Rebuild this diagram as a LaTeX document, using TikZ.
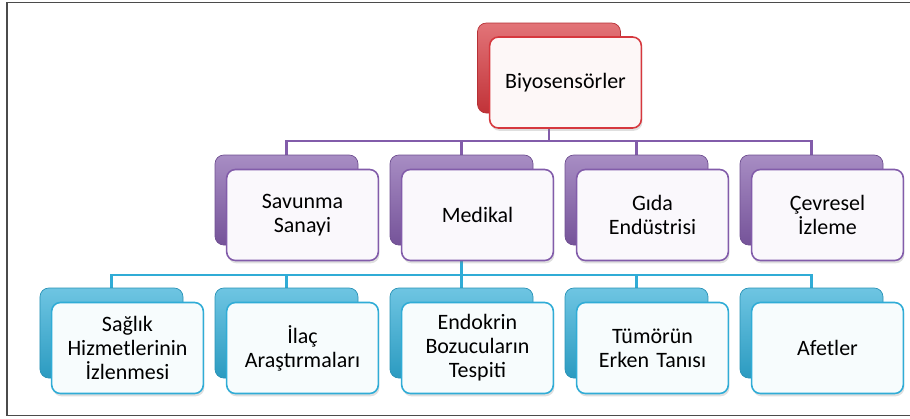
\documentclass[tikz,border=0pt]{standalone}
\usepackage{fontspec}
\setmainfont{Carlito}
\usetikzlibrary{shadows,backgrounds}
\definecolor{kirmizi}{RGB}{214,56,62}
\definecolor{mor}{RGB}{130,92,170}
\definecolor{mavi}{RGB}{48,172,214}
\definecolor{cerceve}{RGB}{75,75,75}

\tikzset{
  arka/.style={rounded corners=5pt, minimum width=2.86cm, minimum height=1.8cm,
    draw=#1!85!black, line width=.4pt, top color=#1!70!white, middle color=#1,
    bottom color=#1!90!black},
  kutu/.style={rounded corners=5pt, minimum width=2.88cm, minimum height=1.82cm,
    text width=2.8cm, align=center, draw=#1, line width=.9pt, fill=#1!4!white,
    drop shadow={shadow xshift=.6pt, shadow yshift=-1.6pt, opacity=.25},
    font=\fontsize{12.5}{13.6}\selectfont},
  hat/.style={draw=#1, line width=1.6pt}
}

\begin{document}
\begin{tikzpicture}[auto,node distance=3.5cm]
    \clip (0,0) rectangle (18.2,-8.36);
    \draw[cerceve, line width=1.1pt] (0.14,-0.05) rectangle (18.8,-8.31);

    \node[arka=kirmizi] (0) at (10.98,-1.36) {};
    \node[kutu=kirmizi] (t0) at (0) [xshift=.33cm, yshift=-.29cm] {Biyosensörler};

    \node[arka=mor] (1) at (5.73,-4.0) {};
    \node[arka=mor] (2) [right of=1] {};
    \node[arka=mor] (3) [right of=2] {};
    \node[arka=mor] (4) [right of=3] {};
    \node[kutu=mor] (t1) at (1) [xshift=.32cm, yshift=-.3cm] {Savunma\\Sanayi};
    \node[kutu=mor] (t2) at (2) [xshift=.32cm, yshift=-.3cm] {Medikal};
    \node[kutu=mor] (t3) at (3) [xshift=.32cm, yshift=-.3cm] {Gıda\\Endüstrisi};
    \node[kutu=mor] (t4) at (4) [xshift=.32cm, yshift=-.3cm] {Çevresel\\İzleme};
    % \node[] (t5) [below of=t2] {};

    \node[arka=mavi] (5) at (2.23,-6.66) {};
    \node[arka=mavi] (6) [right of=5] {};
    \node[arka=mavi] (7) [right of=6] {};
    \node[arka=mavi] (8) [right of=7] {};
    \node[arka=mavi] (9) [right of=8] {};
    \node[kutu=mavi] (t5) at (5) [xshift=.32cm, yshift=-.3cm] {Sağlık\\Hizmetlerinin\\İzlenmesi};
    \node[kutu=mavi] (t6) at (6) [xshift=.32cm, yshift=-.3cm] {İlaç\\Araştırmaları};
    \node[kutu=mavi] (t7) at (7) [xshift=.32cm, yshift=-.3cm] {Endokrin\\Bozucuların\\Tespiti};
    \node[kutu=mavi] (t8) at (8) [xshift=.32cm, yshift=-.3cm] {Tümörün\\Erken Tanısı};
    \node[kutu=mavi] (t9) at (9) [xshift=.32cm, yshift=-.3cm] {Afetler};

    \coordinate (c0) at (10.98,-2.82);
    \coordinate (c1) at (9.23,-5.5);
    \begin{pgfonlayer}{background}
    \draw[hat=mor] (0.south) -- (c0);
    \foreach \i in {1,...,4}
        \draw[hat=mor] (c0) -| (\i.north);
    \draw[hat=mavi] (2.south) -- (c1);
    \foreach \i in {5,...,9}
        \draw[hat=mavi] (c1) -| (\i.north);
    % \draw[hat=mavi] (t2.south) -- (c1);
    \end{pgfonlayer}
\end{tikzpicture}
\end{document}
